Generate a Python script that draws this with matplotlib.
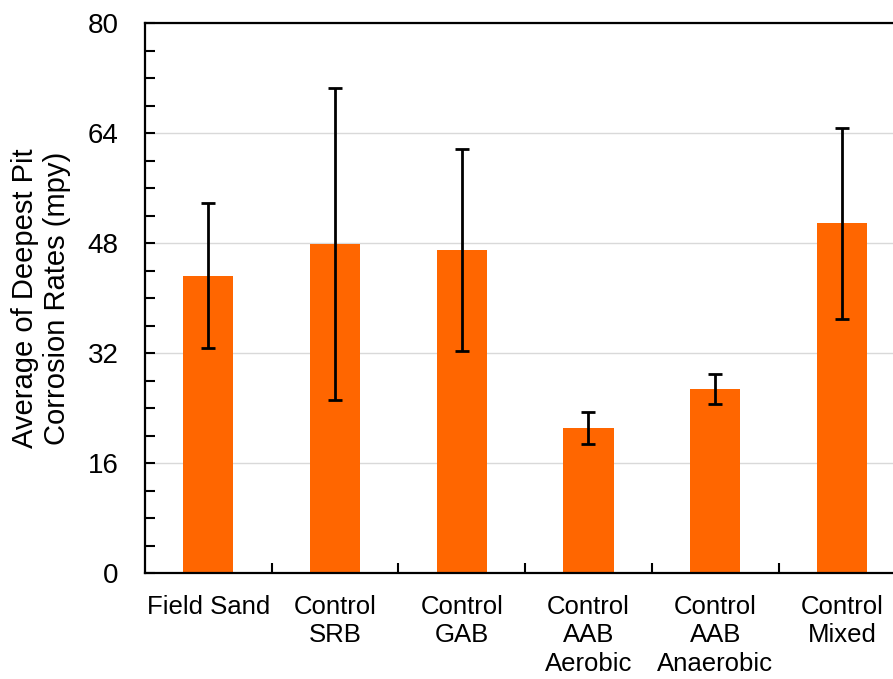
import matplotlib
matplotlib.use("Agg")
import matplotlib.pyplot as plt
from matplotlib.ticker import MultipleLocator

plt.rcParams["font.family"] = ["Liberation Sans", "DejaVu Sans"]

# values (mpy)
categories = [
    "Field Sand",
    "Control\nSRB",
    "Control\nGAB",
    "Control\nAAB\nAerobic",
    "Control\nAAB\nAnaerobic",
    "Control\nMixed",
]
mean_rate = [43.3, 47.9, 47.0, 21.1, 26.8, 50.9]
rate_err = [10.6, 22.7, 14.7, 2.3, 2.2, 13.9]

fig = plt.figure(figsize=(8.93, 6.79), dpi=100)
# right edge of the plot runs off the figure, like the reference crop
ax = fig.add_axes([0.1624, 0.1557, 0.8513, 0.810])

x = list(range(len(categories)))
ax.bar(x, mean_rate, width=0.395, color="#FF6600", zorder=2)
ax.errorbar(x, mean_rate, yerr=rate_err, fmt="none", ecolor="black",
            elinewidth=2.0, capsize=5, capthick=2.0, zorder=3)

ax.set_xlim(-0.5, len(categories) - 0.5)
ax.set_ylim(0, 80)
ax.yaxis.set_major_locator(MultipleLocator(16))
ax.yaxis.set_minor_locator(MultipleLocator(4))
ax.grid(axis="y", which="major", color="#D9D9D9", linewidth=1.0, zorder=0)

# category labels sit under the bars, ticks sit between categories
ax.set_xticks(x)
ax.set_xticklabels(categories, fontsize=18.5, linespacing=1.24, va="top")
ax.tick_params(axis="x", which="major", length=0, pad=15.5)
ax.set_xticks([i + 0.5 for i in x[:-1]], minor=True)
ax.tick_params(axis="x", which="minor", direction="in", length=7, width=1.5)

ax.tick_params(axis="y", which="major", direction="in", length=7, width=1.5,
               labelsize=20, pad=19)
ax.tick_params(axis="y", which="minor", direction="in", length=7, width=1.5)

for side in ["left", "bottom", "top", "right"]:
    ax.spines[side].set_linewidth(1.6)

ax.set_ylabel("Average of Deepest Pit\nCorrosion Rates (mpy)", fontsize=21,
              linespacing=1.2, labelpad=12)

fig.savefig("out.png", dpi=100)
